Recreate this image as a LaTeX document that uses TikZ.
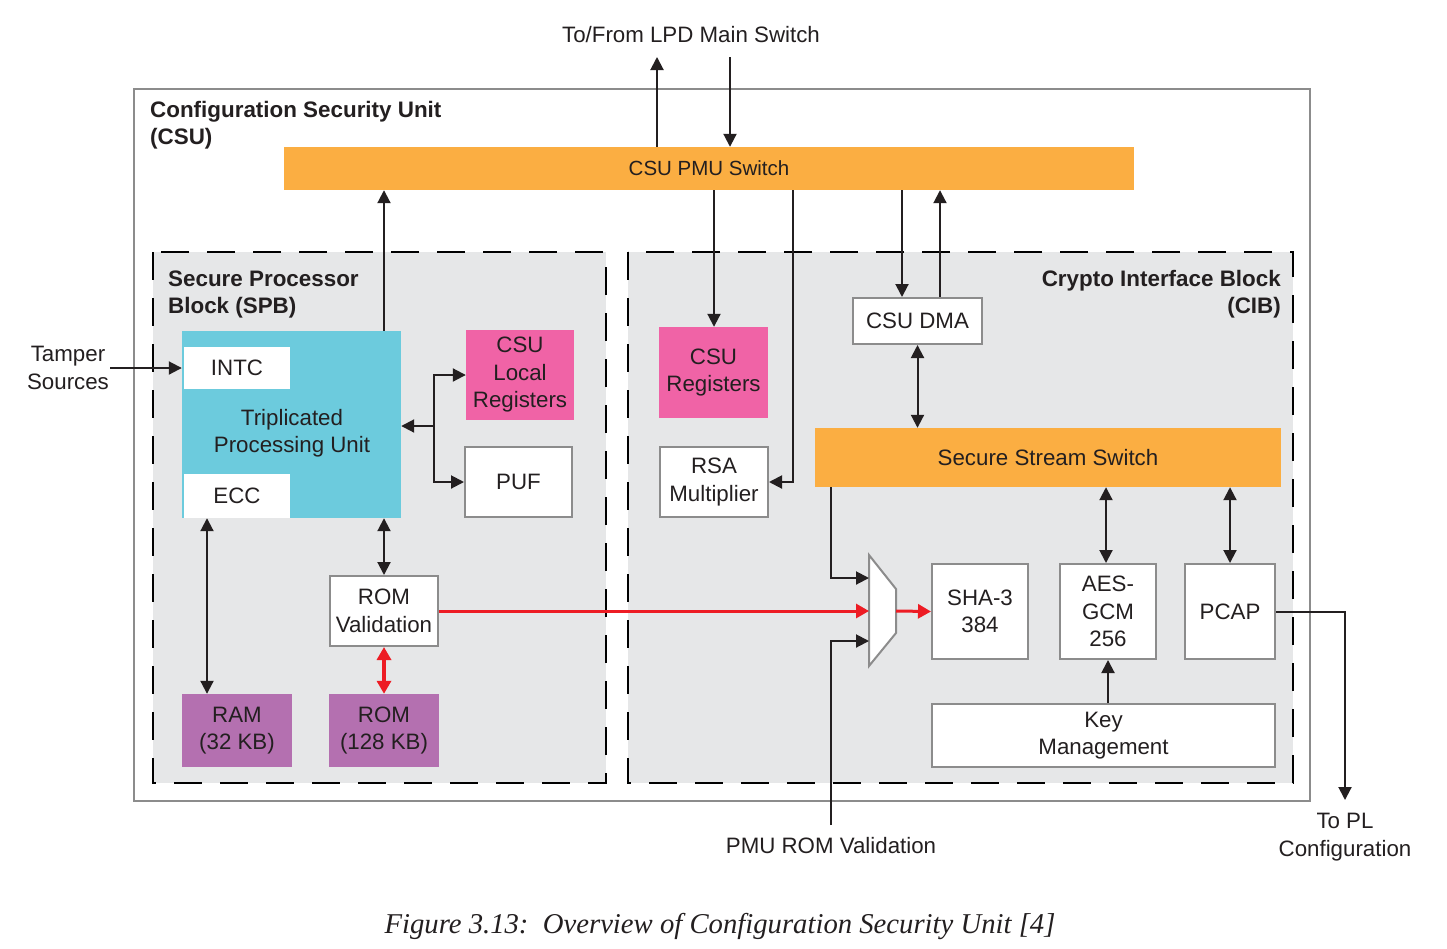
\documentclass[tikz,border=0pt]{standalone}
\usepackage{fontspec}
\setmainfont{Liberation Sans}
\newfontfamily\capfont{Liberation Serif}
\usetikzlibrary{arrows.meta}
\definecolor{ink}{HTML}{231F20}
\definecolor{orng}{HTML}{FBAE42}
\definecolor{cyanb}{HTML}{6CCBDD}
\definecolor{pinkb}{HTML}{F063A6}
\definecolor{purpb}{HTML}{B470B0}
\definecolor{panel}{HTML}{E6E7E8}
\definecolor{bgray}{HTML}{8C8C8C}
\definecolor{redl}{HTML}{ED1C24}
\tikzset{
  txt/.style={font=\fontsize{22.3}{27.5}\selectfont, text=ink, align=center, inner sep=0pt},
  ttl/.style={font=\fontsize{22.4}{27}\selectfont\bfseries, text=ink, inner sep=0pt},
  wbox/.style={txt, draw=bgray, line width=2pt, fill=white},
  obox/.style={txt, fill=orng},
  pbox/.style={txt, fill=pinkb},
  mbox/.style={txt, fill=purpb},
  inbox/.style={txt, fill=white},
  panelbox/.style={fill=panel, draw=black, line width=2.5pt, dash pattern=on 28pt off 18pt},
  arr/.style={draw=ink, line width=2pt, -{Triangle[length=13pt,width=13pt]}},
  darr/.style={draw=ink, line width=2pt, {Triangle[length=13pt,width=13pt]}-{Triangle[length=13pt,width=13pt]}},
  rarr/.style={draw=redl, line width=3pt, -{Triangle[length=13pt,width=14pt]}},
  rdarr/.style={draw=redl, line width=3.5pt, {Triangle[length=13pt,width=14pt]}-{Triangle[length=13pt,width=14pt]}},
}
\begin{document}
\begin{tikzpicture}[x=1pt,y=-1pt]
\useasboundingbox[fill=white] (0,0) rectangle (1447,948);
% outer CSU
\draw[draw=bgray, line width=2pt] (134,89) rectangle (1310,801);
\node[ttl, anchor=west, align=left] (csut) at (150,125.5) {Configuration Security Unit\\(CSU)};
% panels
\path[panelbox] (153,252) rectangle (606,783);
\path[panelbox] (628,252) rectangle (1293,783);
\node[ttl, anchor=west, align=left] (spbt) at (168,294.5) {Secure Processor\\Block (SPB)};
\node[ttl, anchor=east, align=right] (cibt) at (1281,294.5) {Crypto Interface Block\\(CIB)};
% switch
\node[obox, font=\fontsize{20.5}{27}\selectfont, minimum width=850pt, minimum height=43pt] (pmu) at (709,168.5) {CSU PMU Switch};
% SPB
\node[txt, fill=cyanb, minimum width=219pt, minimum height=187pt] (tpu) at (291.5,424.5) {};
\node[inbox, minimum width=106pt, minimum height=42pt] (intc) at (237,368) {INTC};
\node[inbox, minimum width=106pt, minimum height=44pt] (ecc) at (237,496) {ECC};
\node[txt] (tputext) at (292,433) {Triplicated\\Processing Unit};
\node[pbox, minimum width=108pt, minimum height=90pt] (csul) at (520,375) {CSU\\Local\\Registers};
\node[wbox, minimum width=107pt, minimum height=70pt] (puf) at (518.5,482) {PUF};
\node[wbox, minimum width=108pt, minimum height=70pt] (romv) at (384,611) {ROM\\Validation};
\node[mbox, minimum width=110pt, minimum height=73pt] (ram) at (237,730.5) {RAM\\(32 KB)};
\node[mbox, minimum width=110pt, minimum height=73pt] (rom) at (384,730.5) {ROM\\(128 KB)};
% CIB
\node[pbox, minimum width=109pt, minimum height=91pt] (csur) at (713.5,372.5) {CSU\\Registers};
\node[wbox, minimum width=108pt, minimum height=70pt] (rsa) at (714,482) {RSA\\Multiplier};
\node[wbox, minimum width=129pt, minimum height=46pt] (dma) at (917.5,321) {CSU DMA};
\node[obox, minimum width=466pt, minimum height=59pt] (sss) at (1048,457.5) {Secure Stream Switch};
\node[wbox, minimum width=96pt, minimum height=95pt] (sha) at (980,611.5) {SHA-3\\384};
\node[wbox, minimum width=96pt, minimum height=95pt] (aes) at (1108,611.5) {AES-\\GCM\\256};
\node[wbox, minimum width=90pt, minimum height=95pt] (pcap) at (1230,611.5) {PCAP};
\node[wbox, minimum width=343pt, minimum height=63pt] (km) at (1103.5,735.5) {Key\\Management};
% mux
\draw[draw=bgray, line width=2pt, fill=white] (869,555) -- (896,589) -- (896,633) -- (869,666) -- cycle;
\coordinate (mux1) at (869,578);
\coordinate (mux2) at (869,611);
\coordinate (mux3) at (869,641);
\coordinate (muxo) at (896,611);
% outside labels
\node[txt] (lpd) at (691,35) {To/From LPD Main Switch};
\node[txt] (tamper) at (68,368) {Tamper\\Sources};
\node[txt] (pmurom) at (831,846) {PMU ROM Validation};
\node[txt] (topl) at (1345,837) {To PL\\Configuration};
\node[font=\capfont\itshape\fontsize{28.7}{32}\selectfont, text=ink, inner sep=0pt] (cap) at (720,926) {Figure 3.13:\ \ Overview of Configuration Security Unit [4]};
\coordinate (lpdup) at (657,57);
\coordinate (lpddn) at (730,57);
\coordinate (tampo) at (110,368);
\coordinate (pmuin) at (831,825);
\coordinate (plend) at (1345,800);
\coordinate (br) at (434,426);
% connectors
\draw[arr] (657,0 |- pmu.north) -- (lpdup);
\draw[arr] (lpddn) -- (730,0 |- pmu.north);
\draw[arr] (384,0 |- tpu.north) -- (384,0 |- pmu.south);
\draw[arr] (714,0 |- pmu.south) -- (714,0 |- csur.north);
\draw[arr] (793,0 |- pmu.south) |- (rsa.east);
\draw[arr] (902,0 |- pmu.south) -- (902,0 |- dma.north);
\draw[arr] (940,0 |- dma.north) -- (940,0 |- pmu.south);
\draw[darr] (dma.south) -- (dma.south |- sss.north);
\draw[arr] (tampo) -- (tampo -| tpu.west);
\draw[arr] (br) -- (br -| tpu.east);
\draw[arr] (br) |- (csul.west);
\draw[arr] (br) |- (puf.west);
\draw[darr] (romv.north |- tpu.south) -- (romv.north);
\draw[darr] (207,0 |- ecc.south) -- (207,0 |- ram.north);
\draw[rdarr] (romv.south) -- (rom.north);
\draw[rarr] (romv.east) -- (mux2);
\draw[rarr] (muxo) -- (sha.west);
\draw[arr] (831,0 |- sss.south) |- (mux1);
\draw[arr] (pmuin) |- (mux3);
\draw[darr] (1106,0 |- sss.south) -- (1106,0 |- aes.north);
\draw[darr] (pcap.north |- sss.south) -- (pcap.north);
\draw[arr] (aes.south |- km.north) -- (aes.south);
\draw[arr] (pcap.east) -| (plend);
\end{tikzpicture}
\end{document}
